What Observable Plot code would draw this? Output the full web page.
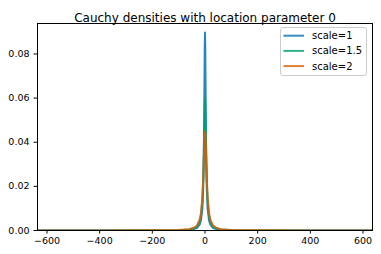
<!DOCTYPE html>
<html>
<head>
<meta charset="utf-8">
<script src="https://cdn.jsdelivr.net/npm/d3@7"></script>
<script src="https://cdn.jsdelivr.net/npm/@observablehq/plot@0.6"></script>
<style>
  html, body { margin: 0; padding: 0; background: white; }
</style>
</head>
<body>
<div id="chart"></div>
<script>
const title = "Cauchy densities with location parameter 0";
const seriesNames = ["scale=1", "scale=1.5", "scale=2"];
const seriesColors = ["#0072b2", "#009e73", "#d55e00"];
const xs = [-636, -400, -200, -100, -60, -40, -30, -20, -15, -10, -7, -5, -3, -2, -1, 0, 1, 2, 3, 5, 7, 10, 15, 20, 30, 40, 60, 100, 200, 400, 636];
const yScale1 = [0.000003, 0.000007, 0.000028, 0.000113, 0.00031, 0.0007, 0.00124, 0.00274, 0.00476, 0.0100, 0.0183, 0.0301, 0.0523, 0.0681, 0.0831, 0.0897, 0.0831, 0.0681, 0.0523, 0.0301, 0.0183, 0.0100, 0.00476, 0.00274, 0.00124, 0.0007, 0.00031, 0.000113, 0.000028, 0.000007, 0.000003];
const yScale15 = [0.0000042, 0.0000106, 0.000042, 0.00017, 0.00047, 0.00104, 0.00183, 0.00397, 0.0067, 0.0132, 0.0219, 0.0318, 0.0454, 0.0524, 0.0578, 0.0598, 0.0578, 0.0524, 0.0454, 0.0318, 0.0219, 0.0132, 0.0067, 0.00397, 0.00183, 0.00104, 0.00047, 0.00017, 0.000042, 0.0000106, 0.0000042];
const yScale2 = [0.0000056, 0.0000141, 0.000057, 0.000225, 0.00062, 0.00137, 0.0024, 0.0050, 0.0082, 0.0150, 0.0228, 0.0300, 0.0381, 0.0416, 0.0440, 0.0449, 0.0440, 0.0416, 0.0381, 0.0300, 0.0228, 0.0150, 0.0082, 0.0050, 0.0024, 0.00137, 0.00062, 0.000225, 0.000057, 0.0000141, 0.0000056];
const xTicks = [-600, -400, -200, 0, 200, 400, 600];
const yTicks = [0, 0.02, 0.04, 0.06, 0.08];
const xDomain = [-636, 636];
const yDomain = [0, 0.0938];

const allY = [yScale1, yScale15, yScale2];
const seriesRows = allY.map((ys, i) => xs.map((x, j) => ({x, y: ys[j], series: seriesNames[i]})));

const plot = Plot.plot({
  width: 381,
  height: 254,
  marginLeft: 37,
  marginRight: 9,
  marginTop: 23,
  marginBottom: 24,
  style: {fontFamily: "DejaVu Sans", fontSize: "9.5px", color: "#000"},
  x: {domain: xDomain},
  y: {domain: yDomain},
  marks: [
    Plot.line(seriesRows[0], {x: "x", y: "y", stroke: seriesColors[0], strokeOpacity: 0.85, strokeWidth: 2, clip: true}),
    Plot.line(seriesRows[1], {x: "x", y: "y", stroke: seriesColors[1], strokeOpacity: 0.85, strokeWidth: 2, clip: true}),
    Plot.line(seriesRows[2], {x: "x", y: "y", stroke: seriesColors[2], strokeOpacity: 0.85, strokeWidth: 2, clip: true}),
    Plot.frame({stroke: "#000", strokeWidth: 1}),
    Plot.axisX({ticks: xTicks, tickSize: 3.5, tickPadding: 3, label: null, tickFormat: d3.format("d")}),
    Plot.axisY({ticks: yTicks, tickSize: 3.5, tickPadding: 4.5, label: null, tickFormat: d => d.toFixed(2)}),
    Plot.text([title], {frameAnchor: "top", dy: -10, fontSize: 12, text: d => d})
  ]
});
document.getElementById("chart").appendChild(plot);

// legend
const lg = d3.select(plot).append("g").attr("font-family", "DejaVu Sans").attr("font-size", "10px").attr("text-anchor", "start");
lg.append("rect").attr("x", 280.5).attr("y", 27.5).attr("width", 86).attr("height", 48).attr("rx", 2.5)
  .attr("fill", "white").attr("fill-opacity", 0.8).attr("stroke", "#cccccc").attr("stroke-width", 1);
seriesNames.forEach((name, i) => {
  const yy = 35.7 + i * 15.2;
  lg.append("line").attr("x1", 283.5).attr("x2", 304).attr("y1", yy).attr("y2", yy)
    .attr("stroke", seriesColors[i]).attr("stroke-opacity", 0.8).attr("stroke-width", 2);
  lg.append("text").attr("x", 312).attr("y", yy).attr("dy", "0.35em").attr("fill", "#000").text(name);
});
</script>
</body>
</html>
